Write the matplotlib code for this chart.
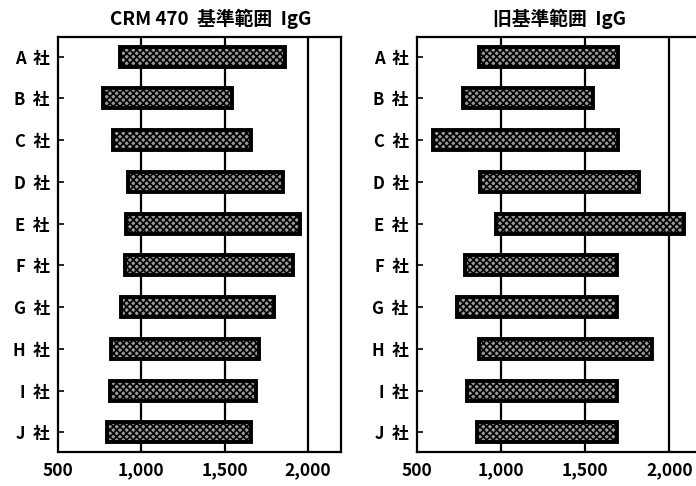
import matplotlib
matplotlib.use("Agg")
import matplotlib.pyplot as plt

plt.rcParams['font.family'] = ['Noto Sans CJK JP', 'DejaVu Sans']
plt.rcParams['font.weight'] = 'bold'
plt.rcParams['hatch.linewidth'] = 1.2
plt.rcParams['hatch.color'] = 'black'

# companies and reference ranges (low, high)
companies = ["A  社", "B  社", "C  社", "D  社", "E  社", "F  社", "G  社", "H  社", "I  社", "J  社"]
crm_low = [870, 770, 830, 920, 910, 905, 880, 818, 812, 795]
crm_high = [1862, 1545, 1660, 1850, 1950, 1910, 1795, 1705, 1690, 1656]
old_low = [869, 774, 595, 875, 970, 786, 738, 869, 798, 857]
old_high = [1696, 1548, 1696, 1821, 2089, 1690, 1690, 1899, 1690, 1690]

titles = ["CRM 470  基準範囲  IgG", "旧基準範囲  IgG"]
xticks = [500, 1000, 1500, 2000]
xtick_labels = ["500", "1,000", "1,500", "2,000"]

fig = plt.figure(figsize=(6.96, 4.86), dpi=100)
ax1 = fig.add_axes([0.0833, 0.070, 0.407, 0.854])
ax2 = fig.add_axes([0.599, 0.070, 0.411, 0.854])

ypos = list(range(len(companies)))

for ax, lo, hi, title, tx in [(ax1, crm_low, crm_high, titles[0], 0.54),
                              (ax2, old_low, old_high, titles[1], 0.5)]:
    for g in xticks[1:]:
        ax.axvline(g, color='black', lw=1.6, zorder=1)
    widths = [h - l for l, h in zip(lo, hi)]
    ax.barh(ypos, widths, left=lo, height=0.48, facecolor='#9a9a9a',
            edgecolor='black', linewidth=2.8, hatch='xxxxx', zorder=3)
    ax.set_xlim(500, 2200)
    ax.set_ylim(9.47, -0.47)
    ax.set_yticks(ypos)
    ax.set_yticklabels(companies, fontsize=12, fontweight='bold')
    ax.tick_params(axis='y', direction='in', length=4, width=1.2, pad=6)
    ax.set_xticks(xticks)
    ax.set_xticklabels(xtick_labels, fontsize=12.5, fontweight='bold')
    ax.tick_params(axis='x', length=0, pad=7)
    for s in ax.spines.values():
        s.set_linewidth(1.6)
    ax.text(tx, 1.02, title, transform=ax.transAxes, ha='center', va='bottom',
            fontsize=13.5, fontweight='bold')

fig.savefig("out.png", dpi=100)
